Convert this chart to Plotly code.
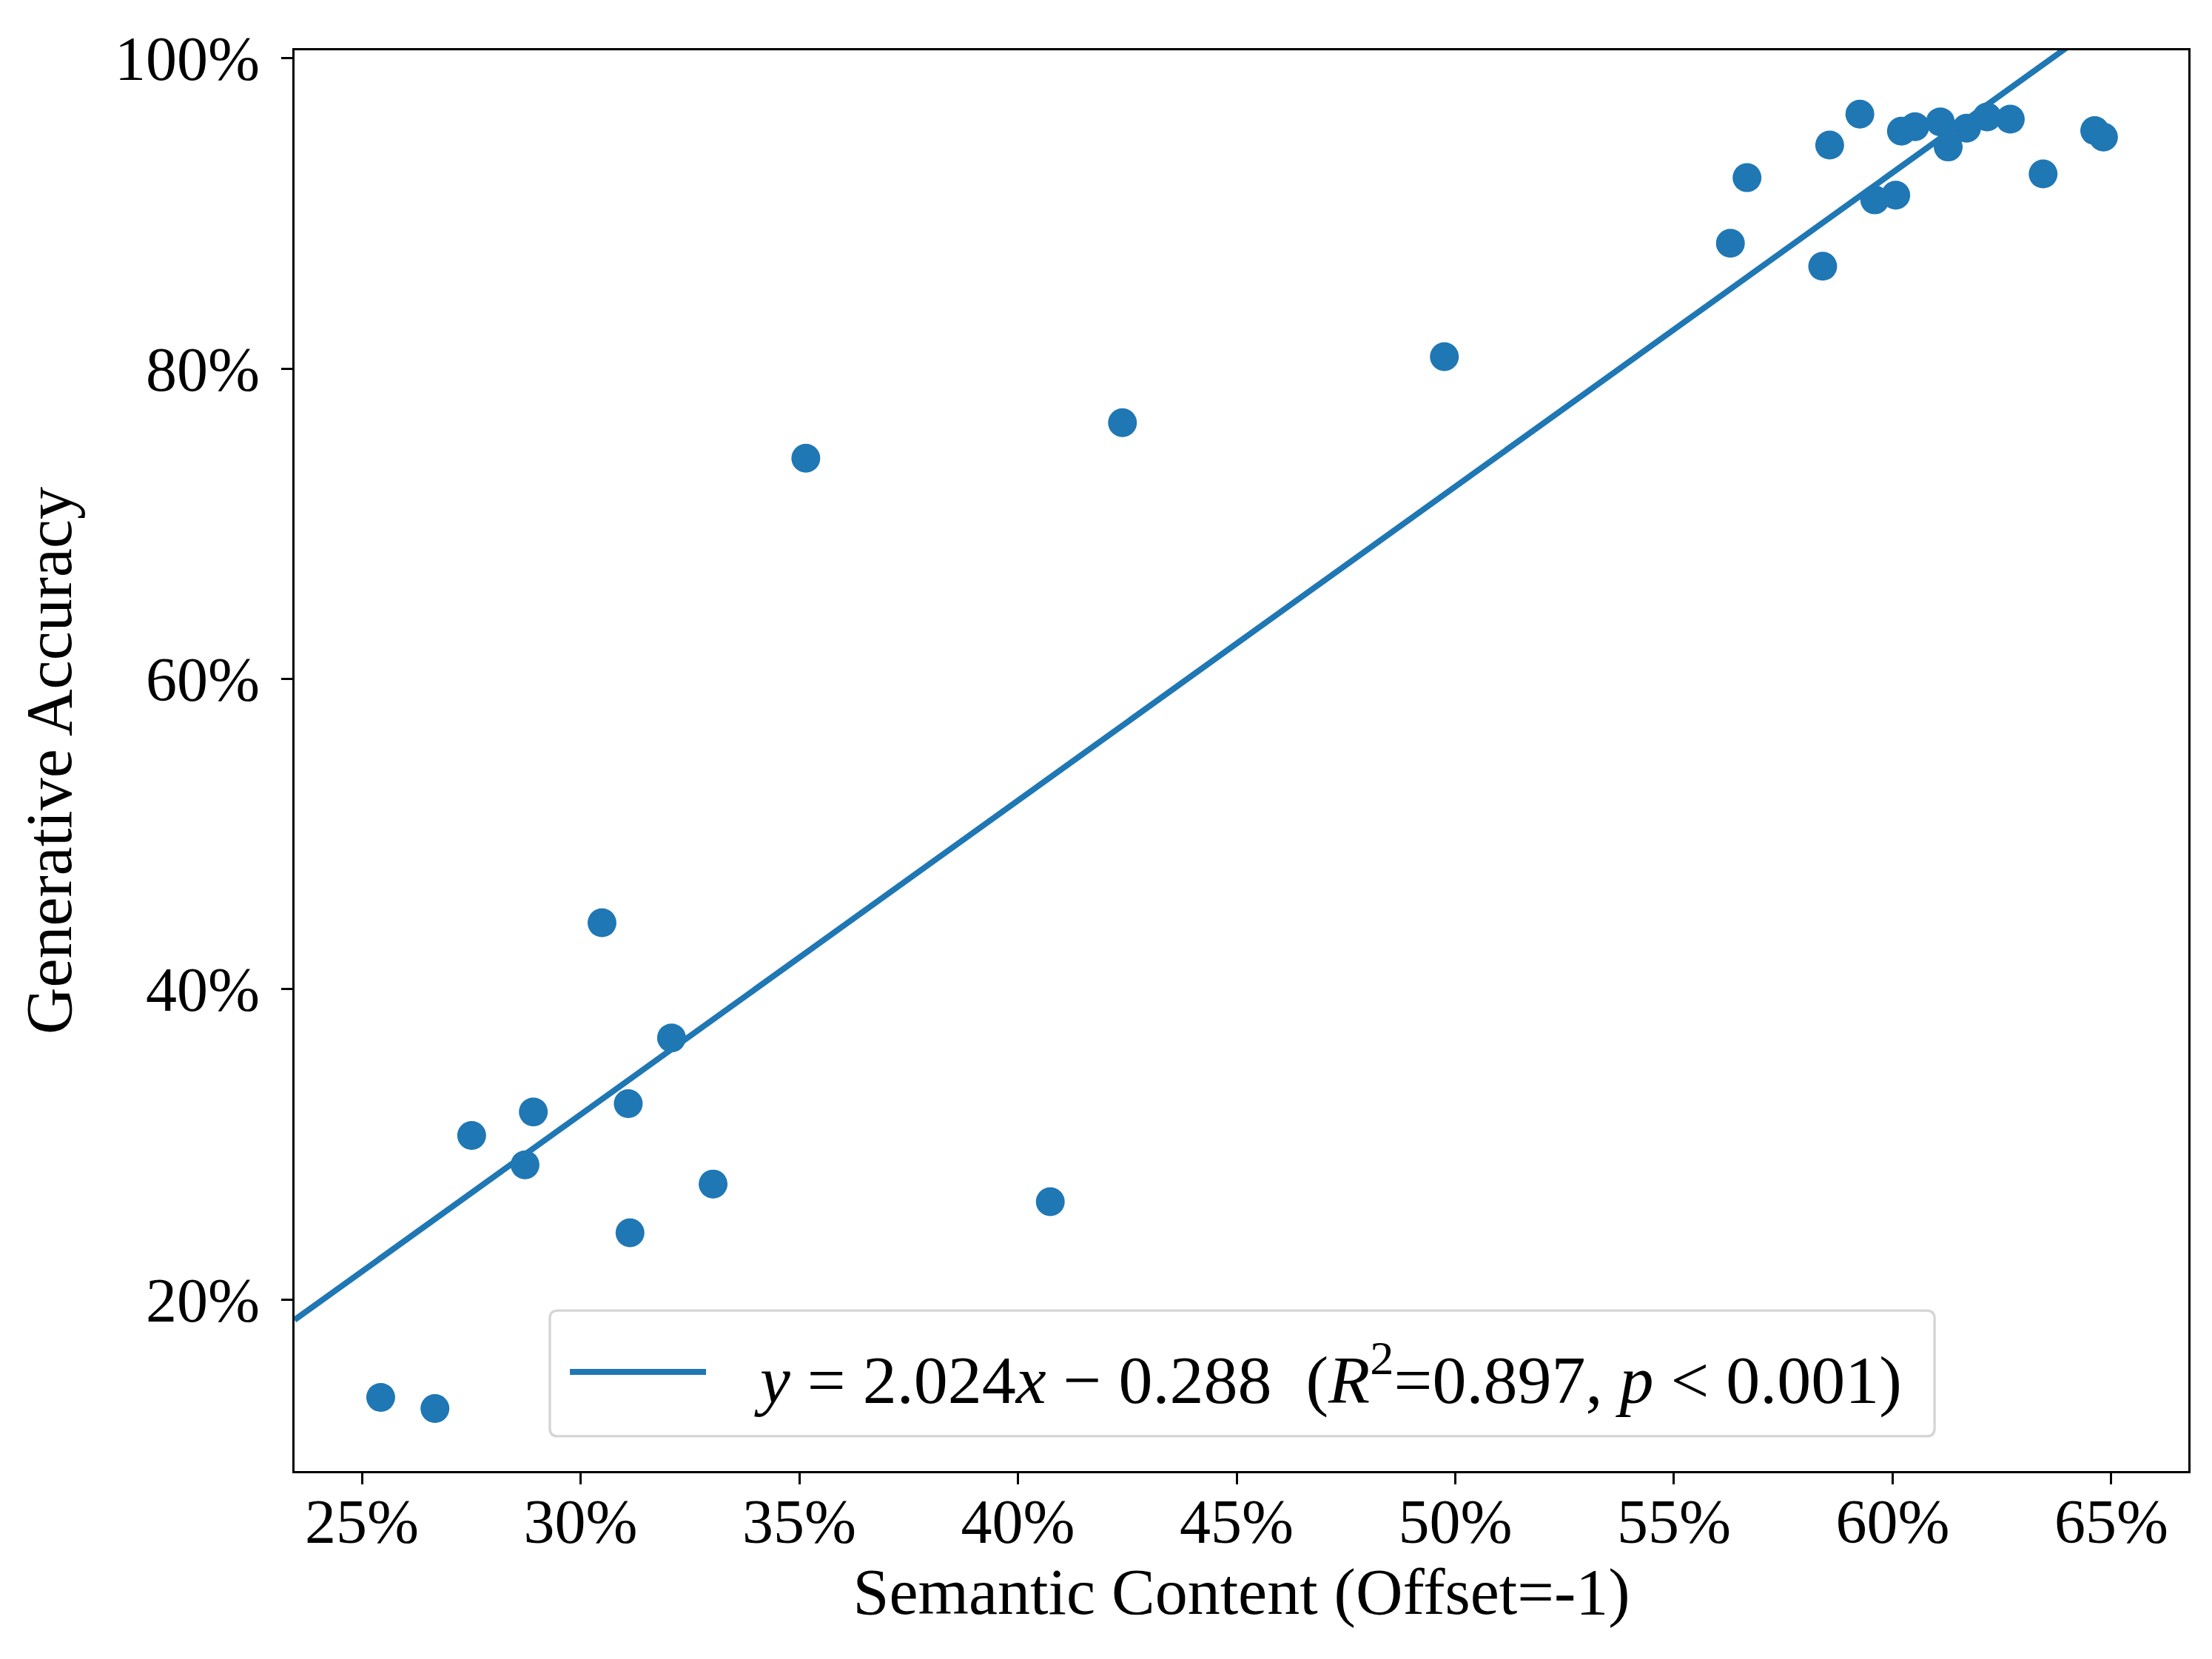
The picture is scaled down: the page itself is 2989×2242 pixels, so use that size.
import plotly.graph_objects as go

# Semantic content (offset = -1) vs generative accuracy, one point per model
semantic_content = [
    0.2543, 0.2667, 0.2751, 0.2873, 0.2892, 0.3049, 0.3109, 0.3113,
    0.3208, 0.3303, 0.3515, 0.4074, 0.4239, 0.4975,
    0.5629, 0.5667, 0.5840, 0.5856, 0.5925, 0.5959, 0.6007, 0.6020,
    0.6051, 0.6109, 0.6127, 0.6169, 0.6216, 0.6269, 0.6344, 0.6462, 0.6482,
]
generative_accuracy = [
    0.1369, 0.1297, 0.3057, 0.2868, 0.3209, 0.4428, 0.3262, 0.2430,
    0.3686, 0.2744, 0.7423, 0.2630, 0.7652, 0.8077,
    0.8808, 0.9231, 0.8660, 0.9441, 0.9641, 0.9088, 0.9118, 0.9531,
    0.9560, 0.9591, 0.9429, 0.9550, 0.9623, 0.9608, 0.9255, 0.9534, 0.9493,
]

# Least-squares fit shown in the legend
fit_slope = 2.024
fit_intercept = -0.288
fit_r2 = 0.897

# Axis limits and ticks
x_range = [0.2346, 0.6676]
y_range = [0.0894, 1.0052]
x_ticks = [0.25, 0.30, 0.35, 0.40, 0.45, 0.50, 0.55, 0.60, 0.65]
y_ticks = [0.20, 0.40, 0.60, 0.80, 1.00]

BLUE = '#1f77b4'
FONT = 'Liberation Serif'


def rounded_box(x0, y0, x1, y1, rx, ry):
    # svg path of a rectangle with rounded corners (paper coords)
    return (
        f'M {x0 + rx},{y0} L {x1 - rx},{y0} Q {x1},{y0} {x1},{y0 + ry} '
        f'L {x1},{y1 - ry} Q {x1},{y1} {x1 - rx},{y1} '
        f'L {x0 + rx},{y1} Q {x0},{y1} {x0},{y1 - ry} '
        f'L {x0},{y0 + ry} Q {x0},{y0} {x0 + rx},{y0} Z'
    )


def plot_semantic_vs_accuracy():
    fig = go.Figure()

    # Scatter of the models
    fig.add_trace(go.Scatter(
        x=semantic_content,
        y=generative_accuracy,
        mode='markers',
        marker=dict(color=BLUE, size=39, line=dict(width=0)),
        showlegend=False,
    ))

    # Regression line across the whole x range (gets clipped at the top)
    line_x = list(x_range)
    line_y = [fit_slope * v + fit_intercept for v in line_x]
    fig.add_trace(go.Scatter(
        x=line_x,
        y=line_y,
        mode='lines',
        line=dict(color=BLUE, width=8),
        showlegend=False,
    ))

    # Legend drawn by hand, matplotlib style (rounded frame, long line sample)
    label = (
        f'<i>y</i> = {fit_slope:.3f}<i>x</i> \u2212 {abs(fit_intercept):.3f}'
        f'  (<i>R</i><sup>2</sup>={fit_r2:.3f}, <i>p</i> < 0.001)'
    )
    fig.add_shape(
        type='path', xref='paper', yref='paper',
        path=rounded_box(0.1348, 0.0245, 0.8660, 0.1130, 0.0042, 0.0056),
        line=dict(color='#d5d5d5', width=3.3),
        fillcolor='rgba(255,255,255,0.8)',
        layer='above',
    )
    fig.add_shape(
        type='line', xref='paper', yref='paper',
        x0=0.1454, x1=0.2173, y0=0.0698, y1=0.0698,
        line=dict(color=BLUE, width=8),
        layer='above',
    )
    fig.add_annotation(
        xref='paper', yref='paper', x=0.2420, y=0.0675,
        xanchor='left', yanchor='middle', showarrow=False,
        text=label,
        font=dict(family=FONT, size=92, color='black'),
    )

    axis_style = dict(
        showline=True, linewidth=3.3, linecolor='black', mirror=True,
        ticks='outside', ticklen=15, tickwidth=3.3, tickcolor='black',
        showgrid=False, zeroline=False,
        tickfont=dict(family=FONT, size=84, color='black'),
        tickformat='.0%',
    )

    fig.update_xaxes(
        range=x_range, tickmode='array', tickvals=x_ticks,
        ticklabelstandoff=-22,
        title=dict(text='Semantic Content (Offset=-1)', standoff=14,
                   font=dict(family=FONT, size=88, color='black')),
        **axis_style
    )
    fig.update_yaxes(
        range=y_range, tickmode='array', tickvals=y_ticks,
        ticklabelstandoff=12,
        title=dict(text='Generative Accuracy', standoff=30,
                   font=dict(family=FONT, size=88, color='black')),
        **axis_style
    )

    fig.update_layout(
        width=2989,
        height=2242,
        margin=dict(l=390, r=40, t=60, b=262),
        plot_bgcolor='white',
        paper_bgcolor='white',
        font=dict(family=FONT, color='black'),
        showlegend=False,
    )

    fig.write_html('out.html')
    print('saved out.html')


if __name__ == '__main__':
    plot_semantic_vs_accuracy()
